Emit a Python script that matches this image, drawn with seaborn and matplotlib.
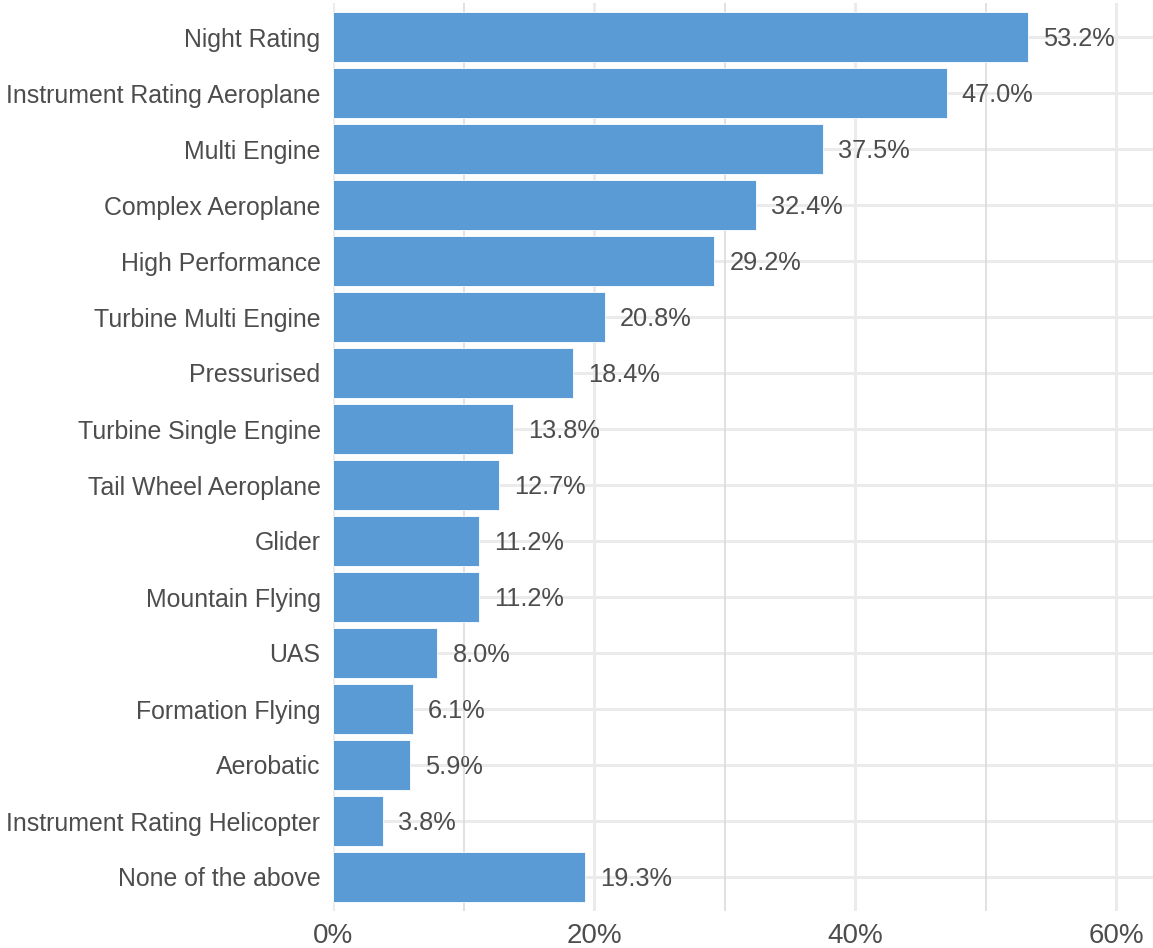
import matplotlib
matplotlib.use("Agg")
import matplotlib.pyplot as plt
import seaborn as sns
import pandas as pd

categories = ["Night Rating", "Instrument Rating Aeroplane", "Multi Engine",
              "Complex Aeroplane", "High Performance", "Turbine Multi Engine",
              "Pressurised", "Turbine Single Engine", "Tail Wheel Aeroplane",
              "Glider", "Mountain Flying", "UAS", "Formation Flying",
              "Aerobatic", "Instrument Rating Helicopter", "None of the above"]
percent = [53.2, 47.0, 37.5, 32.4, 29.2, 20.8, 18.4, 13.8, 12.7,
           11.2, 11.2, 8.0, 6.1, 5.9, 3.8, 19.3]
x_ticks = [0, 20, 40, 60]
x_minor = [10, 30, 50]

df = pd.DataFrame({"rating": categories, "pct": percent})

sns.set_style("white")
plt.rcParams["font.family"] = ["Liberation Sans", "DejaVu Sans"]
text_col = "#4D4D4D"

fig = plt.figure(figsize=(11.53, 9.48), dpi=100)
ax = fig.add_axes([333 / 1153, (948 - 910.6) / 948, 1 - 333 / 1153, (910.6 - 3.4) / 948])

# grid lines drawn under the bars
for i in range(len(categories)):
    ax.axhline(i, color="#EBEBEB", lw=2.2, zorder=0)
for v in x_ticks:
    ax.axvline(v, color="#EBEBEB", lw=2.2, zorder=0)
for v in x_minor:
    ax.axvline(v, color="#D9D9D9", lw=1.1, zorder=0)

sns.barplot(data=df, x="pct", y="rating", order=categories, color="#5B9BD5",
            saturation=1, width=0.9, edgecolor="white", linewidth=0.6, ax=ax, zorder=2)

for i, v in enumerate(percent):
    ax.text(v + 1.15, i, f"{v:.1f}%", va="center_baseline", ha="left",
            fontsize=18.3, color=text_col, zorder=3)

ax.set_xlim(0, 62.8)
ax.set_ylim(len(categories) - 0.4, -0.6)
ax.set_xticks(x_ticks)
ax.set_xticklabels([f"{v}%" for v in x_ticks])
ax.set_xlabel("")
ax.set_ylabel("")
ax.tick_params(axis="both", length=0, labelcolor=text_col)
ax.tick_params(axis="y", pad=9, labelsize=17.9)
ax.tick_params(axis="x", pad=9, labelsize=20)
for s in ax.spines.values():
    s.set_visible(False)

fig.savefig("out.png", dpi=100)
